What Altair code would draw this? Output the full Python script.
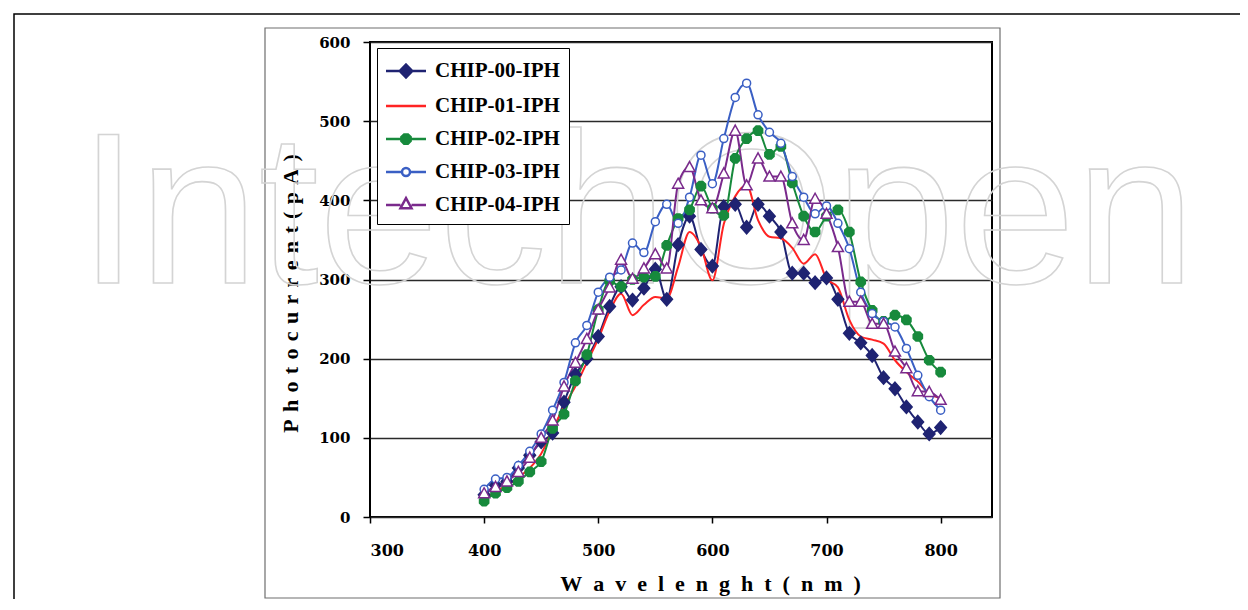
import altair as alt
import pandas as pd

# ---------------- data ----------------
wavelength = [400, 410, 420, 430, 440, 450, 460, 470, 480, 490,
              500, 510, 520, 530, 540, 550, 560, 570, 580, 590,
              600, 610, 620, 630, 640, 650, 660, 670, 680, 690,
              700, 710, 720, 730, 740, 750, 760, 770, 780, 790, 800]

series_names = ["CHIP-00-IPH", "CHIP-01-IPH", "CHIP-02-IPH", "CHIP-03-IPH", "CHIP-04-IPH"]

chip00 = [28, 40, 45, 62, 78, 95, 106, 145, 180, 200,
          228, 266, 291, 274, 289, 313, 275, 344, 380, 338,
          317, 392, 395, 366, 395, 380, 360, 308, 308, 296,
          302, 275, 232, 220, 204, 176, 162, 139, 120, 105, 113]
chip01 = [20, 32, 40, 50, 62, 80, 110, 140, 165, 195,
          225, 260, 282, 255, 268, 278, 276, 316, 360, 341,
          299, 370, 405, 419, 375, 354, 352, 340, 320, 332,
          301, 290, 249, 228, 224, 219, 198, 183, 171, 156, 150]
chip02 = [20, 30, 37, 45, 57, 70, 112, 130, 172, 205,
          262, 298, 291, 300, 303, 304, 343, 377, 388, 418,
          390, 381, 453, 478, 488, 458, 468, 422, 380, 360,
          380, 388, 360, 297, 261, 247, 255, 249, 228, 198, 183]
chip03 = [35, 48, 50, 65, 83, 105, 135, 170, 220, 242,
          284, 303, 312, 346, 334, 373, 395, 371, 404, 457,
          421, 478, 530, 548, 508, 486, 472, 430, 404, 383,
          393, 371, 339, 284, 257, 247, 240, 213, 179, 152, 135]
chip04 = [30, 38, 45, 57, 75, 100, 122, 165, 195, 225,
          262, 290, 325, 301, 314, 332, 314, 421, 442, 400,
          390, 434, 488, 419, 453, 430, 430, 371, 350, 402,
          383, 341, 272, 272, 244, 244, 209, 188, 159, 158, 148]

x_ticks = [300, 400, 500, 600, 700, 800]
y_ticks = [0, 100, 200, 300, 400, 500, 600]

colors = ["#1f2372", "#ff2323", "#178a3c", "#3a5fc4", "#7a2a8c"]
marker_fill = ["#1f2372", "#ff2323", "#178a3c", "#ffffff", "#ffffff"]

rows = []
for name, vals in zip(series_names, [chip00, chip01, chip02, chip03, chip04]):
    for w, v in zip(wavelength, vals):
        rows.append({"Wavelength": w, "Photocurrent": v, "Series": name})
df = pd.DataFrame(rows)

# marker shapes (unit = sqrt(size)/2 px)
octagon = "M0.38,-0.92L0.92,-0.38L0.92,0.38L0.38,0.92L-0.38,0.92L-0.92,0.38L-0.92,-0.38L-0.38,-0.92Z"
plot_shapes = [
    "M0,-1.3L1.15,0L0,1.3L-1.15,0Z",
    "M0,0",
    octagon,
    "M-0.8,0A0.8,0.8 0 1,0 0.8,0A0.8,0.8 0 1,0 -0.8,0Z",
    "M0,-1.1L1.1,0.9L-1.1,0.9Z",
]

# legend symbols: line + marker (unit = 12.5 px)
legend_shapes = [
    "M-1.12,0H2.08M0.48,-0.52L0.98,0L0.48,0.52L-0.02,0Z",
    "M-1.12,0H2.08",
    "M-1.12,0H2.08M0.63,-0.37L0.85,-0.15L0.85,0.15L0.63,0.37L0.33,0.37L0.11,0.15L0.11,-0.15L0.33,-0.37Z",
    "M-1.12,0H0.16M0.8,0H2.08M0.16,0A0.32,0.32 0 1,0 0.8,0A0.32,0.32 0 1,0 0.16,0Z",
    "M-1.12,0H0.04M0.92,0H2.08M0.48,-0.55L0.92,0.25L0.04,0.25Z",
]

legend = alt.Legend(
    title=None,
    orient="none",
    legendX=7,
    legendY=6,
    fillColor="white",
    strokeColor="black",
    padding=9,
    symbolSize=625,
    symbolStrokeWidth=2.5,
    symbolOpacity=1,
    labelOffset=21,
    rowPadding=9,
    labelFont="Liberation Serif",
    labelFontWeight="bold",
    labelFontSize=21,
    labelColor="black",
    labelLimit=400,
)

x_title = "\u2002".join(list("Wavelenght(nm)"))
y_title = "\u2004".join(list("Photocurrent(pA)"))

x_enc = alt.X(
    "Wavelength:Q",
    scale=alt.Scale(domain=[300, 845], nice=False, zero=False),
    axis=alt.Axis(
        values=x_ticks,
        grid=False,
        domain=False,
        tickColor="black",
        tickSize=6,
        tickWidth=1.5,
        labelFont="DejaVu Serif",
        labelFontWeight="bold",
        labelFontSize=16,
        labelColor="black",
        labelPadding=19,
        title=x_title,
        titleFont="Liberation Serif",
        titleFontSize=22,
        titleFontWeight="bold",
        titleColor="black",
        titleX=340,
        titleY=73,
        titleAlign="center",
        titleBaseline="alphabetic",
    ),
)
y_enc = alt.Y(
    "Photocurrent:Q",
    scale=alt.Scale(domain=[0, 600], nice=False),
    axis=alt.Axis(
        values=y_ticks,
        grid=True,
        gridColor="#2a2a2a",
        gridWidth=1.3,
        domain=False,
        tickColor="black",
        tickSize=7,
        tickWidth=1.5,
        labelFont="DejaVu Serif",
        labelFontWeight="bold",
        labelFontSize=15,
        labelColor="black",
        labelPadding=13,
        title=y_title,
        titleFont="Liberation Serif",
        titleFontSize=22,
        titleFontWeight="bold",
        titleColor="black",
        titleX=-73,
        titleY=251,
        titleAlign="center",
        titleBaseline="alphabetic",
    ),
)

base = alt.Chart(df)

lines = base.mark_line(interpolate="monotone", strokeWidth=2).encode(
    x=x_enc,
    y=y_enc,
    color=alt.Color("Series:N", scale=alt.Scale(domain=series_names, range=colors), legend=None),
    order=alt.Order("Wavelength:Q"),
)

points = base.mark_point(opacity=1, strokeWidth=1.5, size=100, filled=False).encode(
    x="Wavelength:Q",
    y="Photocurrent:Q",
    stroke=alt.Stroke("Series:N", scale=alt.Scale(domain=series_names, range=colors), legend=None),
    fill=alt.Fill("Series:N", scale=alt.Scale(domain=series_names, range=marker_fill), legend=None),
    shape=alt.Shape("Series:N", scale=alt.Scale(domain=series_names, range=plot_shapes), legend=None),
)

# legend-only layer (no rows drawn; its scales build the legend)
legend_layer = base.transform_filter("false").mark_point(opacity=1, strokeWidth=2.5, size=625, filled=False).encode(
    x="Wavelength:Q",
    y="Photocurrent:Q",
    stroke=alt.Stroke("Series:N", scale=alt.Scale(domain=series_names, range=colors), legend=legend),
    fill=alt.Fill("Series:N", scale=alt.Scale(domain=series_names, range=marker_fill), legend=legend),
    shape=alt.Shape("Series:N", scale=alt.Scale(domain=series_names, range=legend_shapes), legend=legend),
)

one = pd.DataFrame({"label": ["IntechOpen"]})

watermark = alt.Chart(one).mark_text(
    font="Liberation Sans",
    fontSize=216,
    fillOpacity=0,
    stroke="#d4d4d4",
    strokeWidth=1.6,
    align="center",
    baseline="alphabetic",
).encode(text="label:N", x=alt.value(267), y=alt.value(241))

outer_frame = alt.Chart(one).mark_rect(fillOpacity=0, stroke="black", strokeWidth=1.5).encode(
    x=alt.value(-356), x2=alt.value(1200), y=alt.value(-28), y2=alt.value(900)
)
inner_frame = alt.Chart(one).mark_rect(fillOpacity=0, stroke="#6e6e6e", strokeWidth=1.2).encode(
    x=alt.value(-105), x2=alt.value(630), y=alt.value(-14), y2=alt.value(556)
)

chart = alt.layer(outer_frame, inner_frame, watermark, lines, points, legend_layer).resolve_scale(
    stroke="independent", fill="independent", shape="independent"
).properties(
    width=622,
    height=475,
    autosize=alt.AutoSizeParams(type="none"),
    padding={"left": 362, "top": 34, "right": 248, "bottom": 82},
    background="white",
).configure_view(stroke="black", strokeWidth=2)

chart.save("out.html", embed_options={"renderer": "svg", "actions": False})
